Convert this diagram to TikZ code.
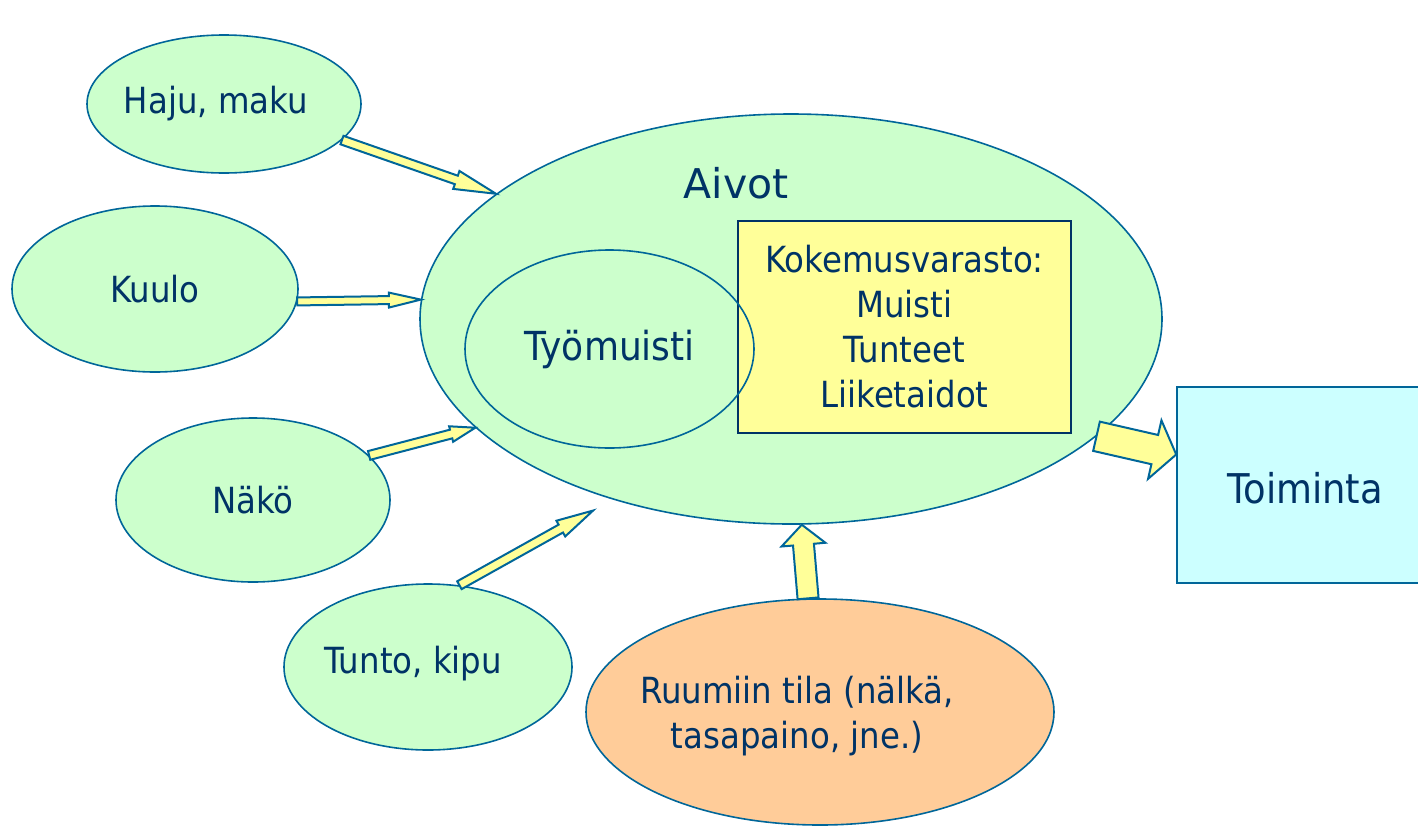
\documentclass[tikz,border=0pt]{standalone}
\usepackage{fontspec}
\setmainfont{DejaVu Sans}[FakeStretch=0.9]
\newfontfamily\widefont{DejaVu Sans}
\usetikzlibrary{shapes.geometric,calc}

\definecolor{navy}{HTML}{003366}
\definecolor{edge}{HTML}{006699}
\definecolor{mint}{HTML}{CCFFCC}
\definecolor{paleyellow}{HTML}{FFFF99}
\definecolor{peach}{HTML}{FFCC99}
\definecolor{palecyan}{HTML}{CCFFFF}

% block arrow: [style] {tail} {tip} {shaft half width} {head half width} {head length}
\newcommand{\blockarrow}[6][]{%
  \coordinate (ba-t) at #2;
  \coordinate (ba-h) at #3;
  \coordinate (ba-b) at ($(ba-h)!#6!(ba-t)$);
  \draw[blockarr,#1] ($(ba-t)!#4!90:(ba-h)$) -- ($(ba-b)!#4!-90:(ba-t)$)
    -- ($(ba-b)!#5!-90:(ba-t)$) -- (ba-h) -- ($(ba-b)!#5!90:(ba-t)$)
    -- ($(ba-b)!#4!90:(ba-t)$) -- ($(ba-t)!#4!-90:(ba-h)$) -- cycle;
}

\begin{document}
\begin{tikzpicture}[x=0.5pt, y=-0.5pt, line width=0.8pt,
    txt/.style={text=navy, font=\fontsize{18}{22.5}\selectfont, align=center},
    sense/.style={ellipse, draw=edge, fill=mint, inner sep=0pt, txt},
    blockarr/.style={draw=edge, fill=paleyellow, line join=miter, line width=1pt}]
  \useasboundingbox (0,0) rectangle (1418,825);

  % the brain
  \node[sense, minimum width=371pt, minimum height=205pt] (aivot) at (791,319) {};
  \node[txt, font=\widefont\fontsize{20.5}{24}\selectfont] (aivotlabel) at (736,183) {Aivot};
  \node[draw=navy, fill=paleyellow, minimum width=166.5pt, minimum height=106pt, txt] (varasto) at (904.5,327)
    {Kokemusvarasto:\\Muisti\\Tunteet\\Liiketaidot};
  \node[ellipse, draw=edge, inner sep=0pt, minimum width=144.5pt, minimum height=99pt, txt,
    font=\fontsize{20}{24}\selectfont] (tyomuisti) at (609.5,349) {Työmuisti};

  % senses
  \node[sense, minimum width=137pt, minimum height=69pt] (haju) at (224,104) {};
  \node[txt] (hajulabel) at (216,104) {Haju, maku};
  \node[sense, minimum width=143pt, minimum height=83pt] (kuulo) at (155,289) {Kuulo};
  \node[sense, minimum width=137pt, minimum height=82pt] (nako) at (253,500) {Näkö};
  \node[sense, minimum width=144pt, minimum height=83pt] (tunto) at (428,667) {};
  \node[txt] (tuntolabel) at (413,664) {Tunto, kipu};
  \node[sense, fill=peach, minimum width=234pt, minimum height=113pt] (ruumis) at (820,712) {};
  \node[txt] (ruumislabel) at (797,716) {Ruumiin tila (nälkä,\\tasapaino, jne.)};

  % action
  \node[draw=edge, fill=palecyan, minimum width=121.5pt, minimum height=98pt, inner sep=0pt] (toiminta) at (1298.5,485) {};
  \node[txt, font=\fontsize{20.5}{24}\selectfont] (toimintalabel) at (1305,488) {Toiminta};

  % arrows
  \coordinate (tuntotip) at ($(aivot.224)+(-13,13)$);
  \blockarrow{(haju.-17)}{(aivot.157)}{2.25pt}{4.75pt}{21pt}
  \blockarrow{(kuulo.-5.5)}{(aivot.177.5)}{2pt}{3.75pt}{16pt}
  \blockarrow{(nako.21)}{(aivot.199)}{2.25pt}{4pt}{12.5pt}
  \blockarrow{(tunto.69)}{(tuntotip)}{2.25pt}{4.5pt}{18.5pt}
  \blockarrow{(ruumis.96)}{(aivot.-87)}{5.25pt}{11pt}{10pt}
  \blockarrow{(aivot.-21)}{(toiminta.166)}{7.5pt}{15pt}{11pt}
\end{tikzpicture}
\end{document}
